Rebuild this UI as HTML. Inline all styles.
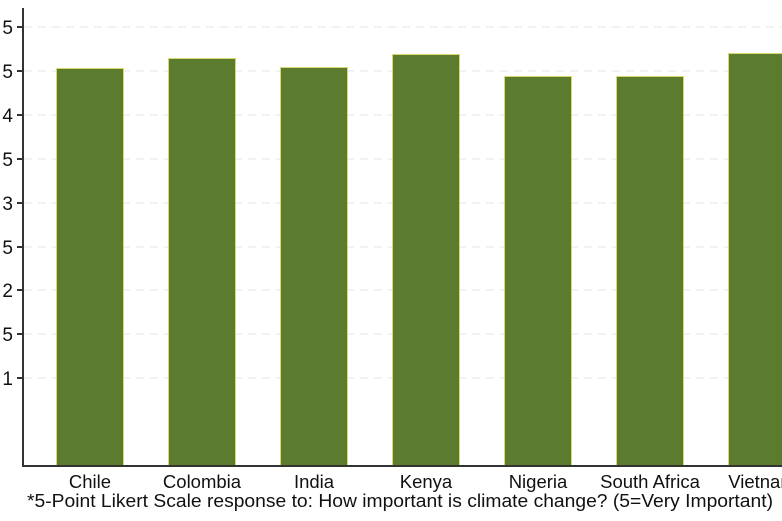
<!DOCTYPE html>
<html><head><style>
body{margin:0;background:#fff;}
svg{display:block;font-family:"Liberation Sans",Arial,sans-serif;}
</style></head><body>
<svg width="782" height="521" viewBox="0 0 782 521">
<g stroke="#e4e4e4" stroke-width="1" stroke-dasharray="8,6">
<line x1="24" x2="782" y1="27" y2="27"/><line x1="24" x2="782" y1="71" y2="71"/>
<line x1="24" x2="782" y1="115" y2="115"/><line x1="24" x2="782" y1="159" y2="159"/>
<line x1="24" x2="782" y1="203" y2="203"/><line x1="24" x2="782" y1="247" y2="247"/>
<line x1="24" x2="782" y1="290" y2="290"/><line x1="24" x2="782" y1="334" y2="334"/>
<line x1="24" x2="782" y1="378" y2="378"/>
</g>
<g fill="#5b7b2f" stroke="#d8d870" stroke-width="1">
<rect x="56.5" y="68.5" width="67" height="397"/>
<rect x="168.5" y="58.5" width="67" height="407"/>
<rect x="280.5" y="67.5" width="67" height="398"/>
<rect x="392.5" y="54.5" width="67" height="411"/>
<rect x="504.5" y="76.5" width="67" height="389"/>
<rect x="616.5" y="76.5" width="67" height="389"/>
<rect x="728.5" y="53.5" width="67" height="412"/>
</g>
<g stroke="#333" stroke-width="2">
<line x1="23" y1="8" x2="23" y2="466"/>
<line x1="22" y1="466" x2="782" y2="466"/>
<line x1="17" x2="23" y1="27" y2="27"/><line x1="17" x2="23" y1="71" y2="71"/>
<line x1="17" x2="23" y1="115" y2="115"/><line x1="17" x2="23" y1="159" y2="159"/>
<line x1="17" x2="23" y1="203" y2="203"/><line x1="17" x2="23" y1="247" y2="247"/>
<line x1="17" x2="23" y1="290" y2="290"/><line x1="17" x2="23" y1="334" y2="334"/>
<line x1="17" x2="23" y1="378" y2="378"/>
</g>
<g font-size="19" fill="#111" text-anchor="end">
<text x="13" y="34">5</text><text x="13" y="78">5</text><text x="13" y="122">4</text>
<text x="13" y="166">5</text><text x="13" y="210">3</text><text x="13" y="254">5</text>
<text x="13" y="297">2</text><text x="13" y="341">5</text><text x="13" y="385">1</text>
</g>
<g font-size="18.5" fill="#111" text-anchor="middle">
<text x="90" y="488">Chile</text><text x="202" y="488">Colombia</text>
<text x="314" y="488">India</text><text x="426" y="488">Kenya</text>
<text x="538" y="488">Nigeria</text><text x="650" y="488">South Africa</text>
<text x="762" y="488">Vietnam</text>
</g>
<text x="27" y="507" font-size="18.5" fill="#111" textLength="746" lengthAdjust="spacingAndGlyphs">*5-Point Likert Scale response to: How important is climate change? (5=Very Important)</text>
</svg>
</body></html>
